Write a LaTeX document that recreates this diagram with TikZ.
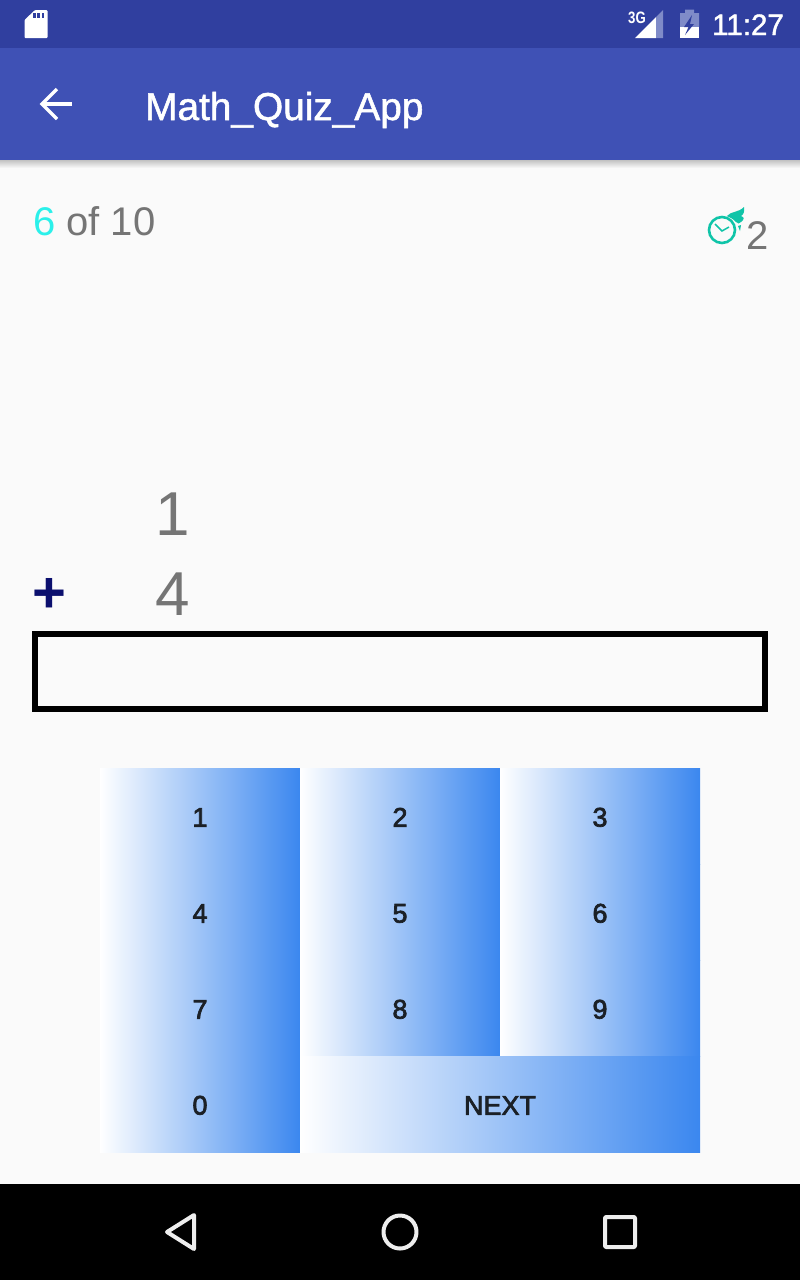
\documentclass[tikz,border=0pt]{standalone}
\usepackage{xcolor}
\usepackage{fontspec}
\setmainfont{Liberation Sans}
\newfontfamily\mediumfont[FakeBold=1.4]{Liberation Sans}
\newfontfamily\keyfont[FakeBold=2.6]{Liberation Sans}
\usetikzlibrary{positioning}

\definecolor{statusblue}{HTML}{303F9F}
\definecolor{barblue}{HTML}{3F51B5}
\definecolor{pagegrey}{HTML}{FAFAFA}
\definecolor{textgrey}{HTML}{757575}
\definecolor{keyblue}{HTML}{3B87EF}
\definecolor{keytext}{HTML}{1B2026}
\definecolor{countcyan}{HTML}{2BF0EA}
\definecolor{clockteal}{HTML}{0FC4A8}
\definecolor{signalfaint}{HTML}{7F8BC8}
\definecolor{signdark}{HTML}{0B0F6E}
\definecolor{navgrey}{HTML}{EEEEEE}

\tikzset{
  label/.style={inner sep=0pt, anchor=base west, text=textgrey, font=\fontsize{40}{48}\selectfont},
  bignum/.style={inner sep=0pt, anchor=base, text=textgrey, font=\fontsize{62}{70}\selectfont},
  keybox/.style={inner sep=0pt, minimum height=96pt, minimum width=200pt, left color=white, right color=keyblue,
    text=keytext, text height=21.5pt, font=\keyfont\fontsize{27}{32}\selectfont},
  navicon/.style={draw=navgrey, line width=4pt, line join=round},
}

\begin{document}
\begin{tikzpicture}[x=1pt, y=-1pt]
  \useasboundingbox (0,0) rectangle (800,1280);
  \fill[pagegrey] (0,0) rectangle (800,1280);

  % bars
  \fill[top color=black!24, bottom color=pagegrey] (0,160) rectangle (800,168);
  \fill[statusblue] (0,0) rectangle (800,48);
  \fill[barblue] (0,48) rectangle (800,160);
  \fill[black] (0,1184) rectangle (800,1280);

  % status bar
  \fill[white, rounded corners=1pt] (24.5,20) -- (35,10) -- (47.5,10) -- (47.5,38) -- (24.5,38) -- cycle;
  \foreach \x in {33,37.3,41.6}
    \fill[statusblue] (\x,12.5) rectangle ++(2.7,5.5);
  \node[inner sep=0pt, anchor=base west, text=white, xscale=.8, font=\bfseries\fontsize{16.5}{18}\selectfont] (network) at (628,23.5) {3G};
  \fill[white] (635,38) -- (656,38) -- (656,17) -- cycle;
  \fill[signalfaint] (656,38) -- (663,38) -- (663,10) -- (656,17) -- cycle;
  \fill[signalfaint] (680,13) -- (685,13) -- (685,9.5) -- (694,9.5) -- (694,13) -- (699,13) -- (699,27) -- (680,27) -- cycle;
  \fill[white] (680,27) rectangle (699,38);
  \fill[statusblue] (692,15) -- (684,27) -- (688.5,27) -- (685,35) -- (694,24) -- (690,24) -- cycle;
  \node[inner sep=0pt, anchor=base east, text=white, font=\mediumfont\fontsize{29.5}{36}\selectfont] (clocktime) at (784,35) {11:27};

  % app bar
  \draw[white, line width=3.5pt] (72,104) -- (42,104);
  \draw[white, line width=3.5pt] (57,89) -- (42,104) -- (57,119);
  \node[inner sep=0pt, anchor=base west, text=white, font=\mediumfont\fontsize{38.8}{46}\selectfont] (title) at (145,120) {Math\_Quiz\_App};

  % counter and timer
  \node[label] (counter) at (33,235) {\textcolor{countcyan}{6} of 10};
  \draw[clockteal, line width=2.6pt] (722,230) circle (13);
  \draw[clockteal, line width=1.5pt] (715,224) -- (722,231) -- (729,227);
  \fill[clockteal] (727,216) .. controls (731,211) and (738,213) .. (744,207)
    .. controls (745,212) and (743,215) .. (741,216)
    .. controls (745,217) and (744,220) .. (741,222)
    .. controls (740,224) and (737,224) .. (736,222)
    .. controls (733,219) and (730,217) .. (727,216) -- cycle;
  \fill[clockteal] (738,226) -- (741,225) -- (740,231) -- cycle;
  \node[label] (timer) at (746,249) {2};

  % question
  \node[bignum] (first) at (173,535) {1};
  \node[bignum] (second) at (173,615) {4};
  \node[inner sep=0pt, text=signdark, font=\bfseries\fontsize{58}{64}\selectfont] (plus) at (49,595) {+};
  \node[draw=black, line width=6pt, minimum width=730pt, minimum height=75pt, inner sep=0pt] (answer) at (400,671.5) {};

  % keypad
  \foreach \col [count=\c from 0] in {200,400,600}
    \foreach \row [count=\r from 0] in {816,912,1008} {
      \pgfmathtruncatemacro{\digit}{3*\r+\c+1}
      \node[keybox] (key\digit) at (\col,\row) {\digit};
    }
  \node[keybox] (key0) at (200,1104) {0};
  \node[keybox, minimum width=400pt] (keynext) at (500,1104) {NEXT};

  % navigation
  \draw[navicon] (194,1215) -- (167,1232) -- (194,1249) -- cycle;
  \draw[navicon] (400,1232) circle (16.5);
  \draw[navicon, rounded corners=1pt] (605,1217) rectangle (635,1247);
\end{tikzpicture}
\end{document}
